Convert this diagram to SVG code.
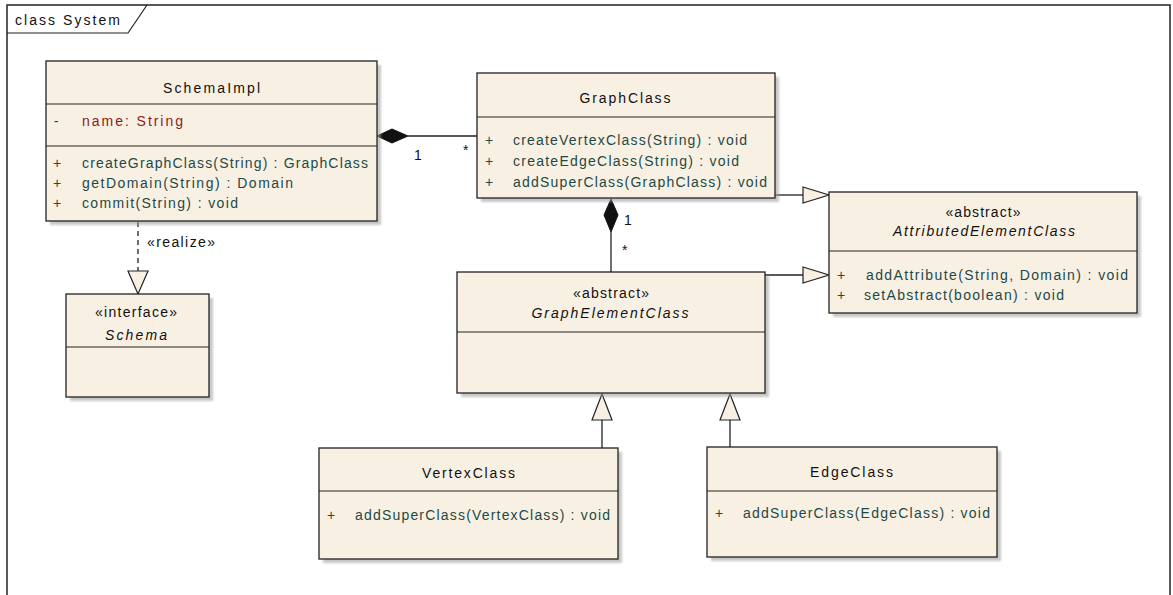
<svg xmlns="http://www.w3.org/2000/svg" width="1173" height="595" viewBox="0 0 1173 595">
  <style>
    .box { fill: #f9f0e4; stroke: #222; stroke-width: 1.3; }
    .shadow { fill: #9a9a9a; opacity: 0.55; filter: url(#soft); }
    .div { stroke: #222; stroke-width: 1.2; }
    .edge { fill: none; stroke: #222; stroke-width: 1.3; }
    .t { font-family: "Liberation Sans", Arial, sans-serif; font-size: 14px; fill: #111; }
    .c { text-anchor: middle; }
    .it { font-style: italic; }
    .op { fill: #1d4a44; }
    .attr { fill: #8a1c1c; }
  </style>
  <defs>
    <filter id="soft" x="-5%" y="-5%" width="110%" height="110%">
      <feGaussianBlur stdDeviation="1"/>
    </filter>
  </defs>

  <rect x="0" y="0" width="1173" height="595" fill="#ffffff"/>

  <!-- diagram frame with name tab -->
  <g id="frame">
    <rect x="7" y="5" width="1163" height="620" fill="none" stroke="#222" stroke-width="1.5"/>
    <path d="M7 33 H128 L147 5" fill="none" stroke="#222" stroke-width="1.2"/>
    <text class="t" x="15" y="25" textLength="105" lengthAdjust="spacing">class System</text>
  </g>

  <!-- connectors -->
  <g id="connectors">
    <!-- SchemaImpl <>— GraphClass -->
    <path class="edge" d="M408 136 H477"/>
    <polygon points="377,136 392,129 408,136 392,143" fill="#111" stroke="#111"/>
    <text class="t" x="414" y="160">1</text>
    <text class="t" x="463" y="155" font-size="11">*</text>

    <!-- GraphClass <>— GraphElementClass -->
    <path class="edge" d="M611 232 V272"/>
    <polygon points="611,199 618,215 611,232 604,215" fill="#111" stroke="#111"/>
    <text class="t" x="624" y="225">1</text>
    <text class="t" x="622" y="255" font-size="11">*</text>

    <!-- GraphClass —|> AttributedElementClass -->
    <path class="edge" d="M775 195 H803"/>
    <polygon points="803,187 829,195 803,203" fill="#f9f0e4" stroke="#222" stroke-width="1.2"/>

    <!-- GraphElementClass —|> AttributedElementClass -->
    <path class="edge" d="M765 275 H803"/>
    <polygon points="803,267 829,275 803,283" fill="#f9f0e4" stroke="#222" stroke-width="1.2"/>

    <!-- VertexClass —|> GraphElementClass -->
    <path class="edge" d="M602 420 V448"/>
    <polygon points="602,394 612,420 592,420" fill="#f9f0e4" stroke="#222" stroke-width="1.2"/>

    <!-- EdgeClass —|> GraphElementClass -->
    <path class="edge" d="M730 420 V447"/>
    <polygon points="730,394 740,420 720,420" fill="#f9f0e4" stroke="#222" stroke-width="1.2"/>

    <!-- SchemaImpl ..|> Schema -->
    <path class="edge" d="M138 222 V271" stroke-dasharray="5,4"/>
    <polygon points="128,271 148,271 138,294" fill="#f9f0e4" stroke="#222" stroke-width="1.2"/>
    <text class="t" x="147" y="247" textLength="68" lengthAdjust="spacing">«realize»</text>
  </g>

  <!-- SchemaImpl -->
  <g id="SchemaImpl">
    <rect class="shadow" x="50" y="65" width="331" height="160"/>
    <rect class="box" x="46" y="61" width="331" height="160"/>
    <line class="div" x1="46" y1="104" x2="377" y2="104"/>
    <line class="div" x1="46" y1="146" x2="377" y2="146"/>
    <text class="t c" x="211.5" y="93" textLength="97" lengthAdjust="spacing">SchemaImpl</text>
    <text class="t attr" x="54" y="126">-</text>
    <text class="t attr" x="82" y="126" textLength="101" lengthAdjust="spacing">name:  String</text>
    <text class="t op" x="53" y="168">+</text>
    <text class="t op" x="82" y="168" textLength="286" lengthAdjust="spacing">createGraphClass(String) : GraphClass</text>
    <text class="t op" x="53" y="188">+</text>
    <text class="t op" x="82" y="188" textLength="211" lengthAdjust="spacing">getDomain(String) : Domain</text>
    <text class="t op" x="53" y="208">+</text>
    <text class="t op" x="82" y="208" textLength="156" lengthAdjust="spacing">commit(String) : void</text>
  </g>

  <!-- GraphClass -->
  <g id="GraphClass">
    <rect class="shadow" x="481" y="77" width="298" height="125"/>
    <rect class="box" x="477" y="73" width="298" height="125"/>
    <line class="div" x1="477" y1="117" x2="775" y2="117"/>
    <text class="t c" x="625" y="103" textLength="91" lengthAdjust="spacing">GraphClass</text>
    <text class="t op" x="485" y="145">+</text>
    <text class="t op" x="513" y="145" textLength="234" lengthAdjust="spacing">createVertexClass(String) : void</text>
    <text class="t op" x="485" y="166">+</text>
    <text class="t op" x="513" y="166" textLength="226" lengthAdjust="spacing">createEdgeClass(String) : void</text>
    <text class="t op" x="485" y="187">+</text>
    <text class="t op" x="513" y="187" textLength="254" lengthAdjust="spacing">addSuperClass(GraphClass) : void</text>
  </g>

  <!-- AttributedElementClass -->
  <g id="AttributedElementClass">
    <rect class="shadow" x="833" y="196" width="308" height="121"/>
    <rect class="box" x="829" y="192" width="308" height="121"/>
    <line class="div" x1="829" y1="251" x2="1137" y2="251"/>
    <text class="t c" x="983" y="217" textLength="75" lengthAdjust="spacing">«abstract»</text>
    <text class="t c it" x="984" y="236" textLength="182" lengthAdjust="spacing">AttributedElementClass</text>
    <text class="t op" x="837" y="280">+</text>
    <text class="t op" x="866" y="280" textLength="262" lengthAdjust="spacing">addAttribute(String, Domain) : void</text>
    <text class="t op" x="837" y="300">+</text>
    <text class="t op" x="864" y="300" textLength="200" lengthAdjust="spacing">setAbstract(boolean) : void</text>
  </g>

  <!-- GraphElementClass -->
  <g id="GraphElementClass">
    <rect class="shadow" x="461" y="276" width="308" height="121"/>
    <rect class="box" x="457" y="272" width="308" height="121"/>
    <line class="div" x1="457" y1="332" x2="765" y2="332"/>
    <text class="t c" x="611" y="298" textLength="76" lengthAdjust="spacing">«abstract»</text>
    <text class="t c it" x="610" y="318" textLength="157" lengthAdjust="spacing">GraphElementClass</text>
  </g>

  <!-- Schema -->
  <g id="Schema">
    <rect class="shadow" x="70" y="298" width="143" height="103"/>
    <rect class="box" x="66" y="294" width="143" height="103"/>
    <line class="div" x1="66" y1="347" x2="209" y2="347"/>
    <text class="t c" x="136" y="317" textLength="82" lengthAdjust="spacing">«interface»</text>
    <text class="t c it" x="136" y="340" textLength="62" lengthAdjust="spacing">Schema</text>
  </g>

  <!-- VertexClass -->
  <g id="VertexClass">
    <rect class="shadow" x="323" y="452" width="299" height="111"/>
    <rect class="box" x="319" y="448" width="299" height="111"/>
    <line class="div" x1="319" y1="491" x2="618" y2="491"/>
    <text class="t c" x="468.5" y="478" textLength="93" lengthAdjust="spacing">VertexClass</text>
    <text class="t op" x="327" y="520">+</text>
    <text class="t op" x="355" y="520" textLength="255" lengthAdjust="spacing">addSuperClass(VertexClass) : void</text>
  </g>

  <!-- EdgeClass -->
  <g id="EdgeClass">
    <rect class="shadow" x="711" y="451" width="290" height="110"/>
    <rect class="box" x="707" y="447" width="290" height="110"/>
    <line class="div" x1="707" y1="491" x2="997" y2="491"/>
    <text class="t c" x="851.5" y="477" textLength="83" lengthAdjust="spacing">EdgeClass</text>
    <text class="t op" x="715" y="518">+</text>
    <text class="t op" x="743" y="518" textLength="247" lengthAdjust="spacing">addSuperClass(EdgeClass) : void</text>
  </g>
</svg>
